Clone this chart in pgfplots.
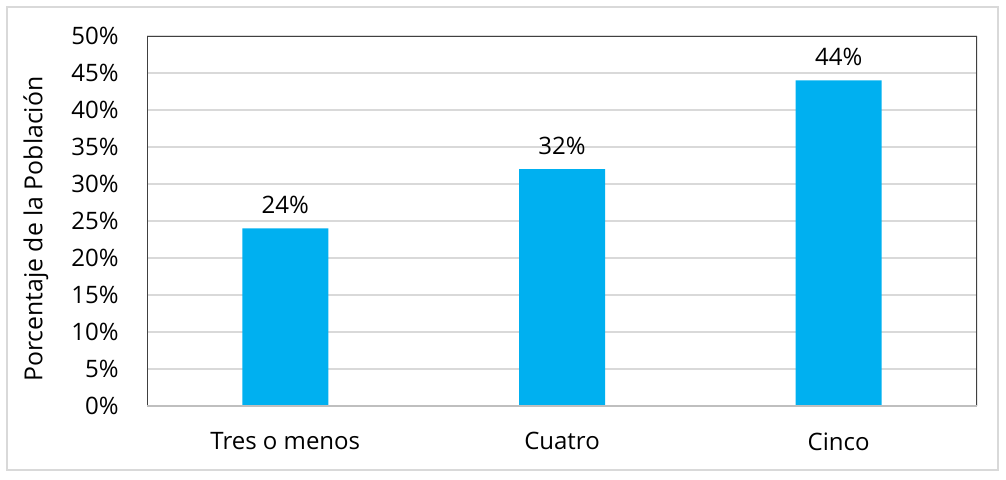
\documentclass[border=0pt]{standalone}
\usepackage{fontspec}
\setmainfont{Open Sans}
\usepackage{pgfplots}
\pgfplotsset{compat=1.18}
\definecolor{barblue}{HTML}{00B0F0}
\definecolor{gridgray}{HTML}{D9D9D9}
\definecolor{framegray}{HTML}{404040}
\definecolor{basegray}{HTML}{BFBFBF}
\definecolor{outergray}{HTML}{D9D9D9}
\begin{document}
\begin{tikzpicture}
% page = 1006 x 479 px, 1px = 0.5pt
\path[use as bounding box] (0pt,0pt) rectangle (503pt,239.5pt);
\draw[outergray, line width=0.75pt] (3.5pt,4.5pt) rectangle (499pt,236pt);
\begin{axis}[
  at={(73.5pt,36.5pt)}, anchor=south west,
  scale only axis, width=415pt, height=185pt,
  font=\fontsize{12}{14}\selectfont,
  /pgf/number format/assume math mode=true,
  xmin=-0.5, xmax=2.5, ymin=0, ymax=50,
  xtick=data, xticklabels={Tres o menos, Cuatro, Cinco},
  ytick={0,5,...,50},
  yticklabel={\pgfmathprintnumber{\tick}\%},
  major tick length=0pt,
  ymajorgrids, grid style={gridgray, line width=0.6pt},
  axis line style={draw=none},
  yticklabel style={anchor=east, inner sep=0pt, xshift=-14pt},
  xticklabel style={anchor=north, inner sep=0pt, yshift=-13pt},
  ylabel={Porcentaje de la Población},
  ylabel style={at={(axis description cs:-0.134,0.478)}, anchor=center, font=\fontsize{12.4}{14}\selectfont},
  ybar, bar width=43pt,
  nodes near coords={\pgfmathprintnumber{\pgfplotspointmeta}\%},
  nodes near coords style={anchor=south, inner sep=0pt, yshift=7pt, font=\fontsize{12}{14}\selectfont},
]
\addplot[fill=barblue, draw=none] coordinates {(0,24) (1,32) (2,44)};
\draw[framegray, line width=0.9pt] (rel axis cs:0,0) -- (rel axis cs:0,1) -- (rel axis cs:1,1) -- (rel axis cs:1,0);
\draw[basegray, line width=0.9pt] (rel axis cs:0,0) -- (rel axis cs:1,0);
\end{axis}
\end{tikzpicture}
\end{document}
